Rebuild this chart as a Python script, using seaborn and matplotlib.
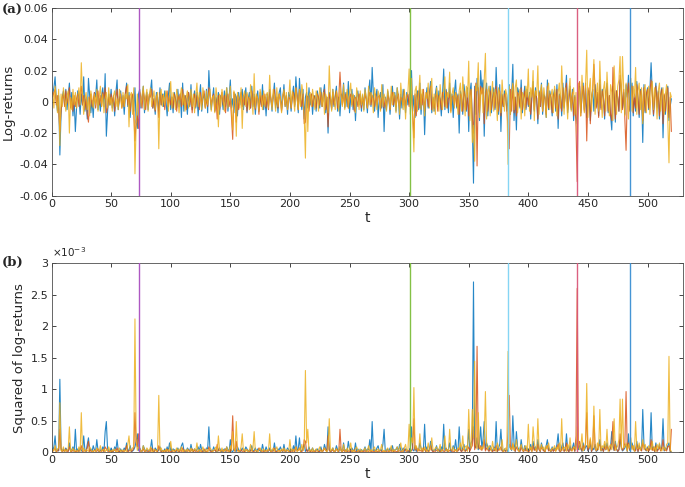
import numpy as np
import pandas as pd
import matplotlib
matplotlib.use("Agg")
import matplotlib.pyplot as plt
import seaborn as sns

# Log-returns of three series, in units of 1e-3, t = 1..520 (20 values per row)
series_names = ["S1", "S2", "S3"]
series_colors = ["#0072BD", "#D95319", "#EDB120"]

blue_rows = [
    [5, 9, 16, 2, -6, 4, -34, -8, 3, 7, -2, 8, -5, 4, 12, -3, 6, -9, 2, -19],
    [-4, 7, 3, -8, 5, -2, 16, -6, 2, -11, 15, 4, -7, 1, -10, 6, 3, 14, -5, 2],
    [-6, 4, 9, -3, 18, -22, -7, 5, -2, 8, -4, 3, -9, 6, 14, -5, 2, 7, -3, 4],
    [-8, 5, 12, -3, 6, -10, 2, 4, -6, 9, -13, -17, 5, 8, -4, 3, 10, -7, 2, 6],
    [-5, 3, 7, 14, -4, 2, -8, 6, 3, -6, 9, -2, 5, -3, 7, 1, -9, 4, 12, -5],
    [3, -7, 6, 2, -4, 8, -3, 5, -10, 12, -6, 4, 2, -8, 6, -3, 11, -5, 2, 7],
    [-4, 6, -9, 3, 11, -6, 2, 5, -3, 8, -7, 20, 4, -5, 2, 9, -6, 3, -2, 6],
    [-8, 4, 2, -5, 7, -3, 9, -6, 3, 14, -4, 2, -7, 5, 3, -9, 6, -2, 4, 8],
    [-5, 3, 9, -7, 2, 6, -4, 10, -3, 5, -8, 2, 7, -6, 4, -2, 11, -5, 3, -9],
    [5, -3, 8, 2, -6, 4, 12, -4, 3, -7, 6, 9, -5, 2, 11, -3, 4, -8, 6, 3],
    [-6, 4, 10, -3, 16, 5, -7, 15, 2, -5, 8, -11, 3, 6, -4, 9, -2, 5, -8, 3],
    [4, -6, 7, 2, -4, 9, -3, 5, 11, -7, 3, -20, 6, 2, -5, 8, -3, 4, 10, -6],
    [3, -9, 5, 2, 12, -4, 6, -3, 13, -7, 2, 8, -5, 4, -12, 3, 7, -2, 5, -6],
    [4, -5, 9, 2, -7, 6, 14, -3, 22, 5, -6, 3, 8, -10, 2, 6, -4, 11, -19, 3],
    [-5, 7, 2, -8, 4, 10, -3, 6, -6, 9, 2, -11, 5, -4, 8, 3, -7, 6, -2, 4],
    [8, 20, -6, 4, -10, 3, 7, -5, 12, -8, 4, 6, -21, 2, 9, -4, 5, 13, -7, 3],
    [-6, 5, 10, -3, 7, 2, -9, 4, 21, -5, 8, 3, -7, 12, -2, 5, -10, 6, 14, -4],
    [5, -20, 7, 3, -8, 11, 4, -6, 9, -19, 6, 12, -14, -52, 10, -8, 15, 6, -12, 20],
    [8, 14, -22, 6, 12, -9, 4, 10, -7, 3, 9, -5, 22, 2, -8, 11, -19, 5, -3, 7],
    [4, -6, 2, 11, -8, 5, 24, -12, 3, -18, 9, 6, -4, 14, -7, 3, 10, -5, 8, -3],
    [6, -11, 4, 13, -6, 9, 2, -14, 7, -3, 12, -8, 5, 3, -10, 14, -5, 7, 2, -9],
    [4, 8, -6, 11, -17, 5, 3, -9, 12, -4, 6, 17, -7, 2, 10, -5, 8, -12, 4, -9],
    [-14, 6, 10, -7, 3, 12, -5, 9, -10, 4, 7, -12, 2, 8, -6, 11, -3, 5, -9, 14],
    [-4, 8, 3, -11, 6, 12, -7, 4, -9, -18, 10, 5, -13, 7, 2, -6, 14, 9, -4, 6],
    [-8, 11, 3, 17, -5, 7, 12, -9, 4, -6, 13, 2, -10, 8, 5, -26, 11, -7, 4, 9],
    [-5, 8, 25, 6, -9, 3, 12, -4, 7, -11, 5, 9, -23, 4, -8, 6, 10, -12, -3, 2],
]

orange_rows = [
    [3, 6, 8, -2, 4, -5, -19, -6, 2, 5, -3, 7, -1, 3, 9, -4, 2, -6, 4, -3],
    [2, 5, -3, 6, 10, -2, 4, -5, 3, -8, -13, 2, 5, -3, 1, 6, -4, 3, 7, -2],
    [4, -3, 6, 2, 9, -7, -4, 3, -2, 5, -1, 4, -6, 3, 8, -3, 2, 5, -4, 3],
    [-3, 6, 10, -2, 4, -6, 3, 5, -8, -25, -12, -9, -17, 6, 3, -4, 7, 2, -5, 4],
    [-2, 5, 3, 8, -4, 2, -6, 4, 1, -10, 6, -2, 4, 3, -5, 2, 7, -3, 4, -2],
    [3, -4, 5, 2, -6, 4, 1, 5, -3, 8, -2, 4, -5, 3, 6, -2, 4, -7, 2, 5],
    [-3, 4, 2, -5, 6, -2, 3, 7, -4, 2, -3, 9, 4, -2, 3, 5, -6, 2, -11, 4],
    [-5, 3, 6, -2, 4, -7, 3, 5, -3, 2, -10, -24, 6, 3, -13, 4, -5, 2, 6, -3],
    [4, -2, 5, -6, 3, 2, -4, 7, -2, 3, -5, 4, 2, -8, 6, -3, 4, -2, 5, -4],
    [3, -5, 6, 2, -3, 4, 8, -2, 3, -4, 5, 2, -6, 3, 7, -2, 4, -5, 3, 2],
    [-4, 3, 6, -2, 9, 4, -5, 8, 2, -3, 5, -14, -13, 4, 3, -6, 2, 5, -3, 4],
    [2, -4, 5, 3, -2, 6, -3, 4, 8, -5, 3, -16, 5, 2, -4, 6, -2, 3, 7, -4],
    [3, 19, 4, -2, 6, -3, 5, 2, -4, 3, 5, -2, 4, -6, 3, 2, -3, 5, 2, -4],
    [3, -2, 5, 2, -4, 3, 6, -2, 4, 2, -3, 5, -2, 3, 4, -5, 2, 3, -4, 2],
    [-3, 4, 2, -5, 3, 6, -2, 4, -3, 2, 5, -4, 3, 2, -2, 7, -4, 3, 5, -3],
    [6, 4, -8, -23, 5, -9, 3, 7, -4, 5, -2, 8, -6, 3, 6, -3, 4, 10, -5, 2],
    [-4, 3, 5, -6, 4, 2, -5, 6, 3, -3, 7, -4, 2, 5, -6, 3, 4, -2, 6, -3],
    [4, -8, 5, 2, -6, 7, 3, -5, 6, -9, 4, 8, -10, -20, 6, 12, -41, 9, -7, 10],
    [5, 9, -14, 4, 8, -6, 3, 7, -5, 2, 6, -4, 10, 3, -6, 7, -9, 4, -3, 5],
    [3, -5, -18, -30, 8, -6, 11, -7, 3, -9, 6, 4, -3, 9, -5, 2, 7, -4, 6, -2],
    [4, -8, 3, 10, -5, 7, 2, -11, 6, -3, 9, -6, 4, 2, -8, 10, -4, 5, 3, -7],
    [3, 6, -4, 8, -11, 4, 2, -6, 9, -3, 5, 12, -5, 2, 8, -4, 6, -9, 3, -16],
    [-51, 8, 13, -9, 4, 10, -6, 12, -25, 5, 9, -14, 3, 7, 24, 8, -4, 6, -10, 11],
    [-5, 7, 3, -9, 6, 10, -6, 4, -8, -12, 22, 5, -11, 7, 3, -6, 17, 9, -5, 8],
    [-12, -31, 4, 12, -6, 8, 10, -7, 5, -4, 11, 3, -8, 7, 4, -12, 9, -6, 5, 8],
    [-4, 7, 14, 5, -8, 3, 10, -3, 6, -9, 4, 8, -14, 5, -6, 4, 9, -10, 3, -19],
]

yellow_rows = [
    [6, -4, 10, 3, -7, 8, -28, 5, -3, 9, 2, -6, 4, 7, -20, 3, -5, 8, -2, 6],
    [-4, 3, 9, -2, 25, 4, -8, 2, 6, -5, 3, -9, 7, 2, -4, 5, -2, 8, -6, 3],
    [10, -3, 5, -7, 2, 6, -4, 9, -2, 3, -6, 4, 7, -3, 2, -5, 8, 3, -4, 6],
    [-3, 5, 2, 11, -16, 4, 6, -8, 9, -46, -14, 5, -9, 7, -3, 4, 10, -5, 3, 8],
    [-6, 4, 9, -3, 2, 7, -5, 3, 6, -30, 4, 8, -3, 5, -2, 7, 3, -6, 4, 13],
    [-4, 6, 2, -5, 8, 3, -7, 4, 9, -2, 5, -6, 3, 7, -4, 2, 8, -3, 5, -7],
    [4, 12, -3, 6, 2, -5, 9, 3, -4, 7, -2, 5, 8, -6, 3, 4, -7, 9, 2, -16],
    [5, -3, 8, 2, -6, 4, 9, -4, 3, 10, -5, -18, 7, 4, -22, 6, 2, -4, 9, -17],
    [4, 7, -3, 6, 2, -5, 11, 3, -8, 18, -4, 5, 2, -6, 8, 3, -5, 7, -3, 4],
    [6, -4, 17, 2, -5, 8, 3, -6, 9, -3, 5, 2, -7, 4, 8, -3, 6, -5, 2, 14],
    [-4, 7, 3, -6, 9, 2, -5, 8, -3, 11, 5, -9, -36, 12, -19, 4, 6, -3, 8, 2],
    [-5, 7, 3, -6, 9, 4, -3, 6, -8, 5, 2, -7, 23, 4, -6, 8, 2, -5, 7, 3],
    [-6, 9, 4, -3, 11, -5, 2, 8, -4, 6, 12, -3, 5, 2, -7, 9, 3, -5, 7, -2],
    [5, -6, 8, 3, -4, 10, -2, 6, 4, -7, 9, 2, -5, 7, 3, -6, 11, -3, 5, 2],
    [-6, 8, 3, -5, 10, -2, 6, 4, -7, 9, 3, -8, 12, 2, -5, 8, -11, 4, 6, 21],
    [-8, 15, -12, -32, 7, 10, -6, 4, 17, -5, 8, 3, -9, 6, 2, 12, -4, 7, 15, -6],
    [5, -8, 9, 3, -6, 11, 2, -5, 8, 16, -4, 6, 3, 19, -7, 5, 9, -4, 6, 3],
    [-8, 7, 12, -6, 16, 4, -9, 10, 3, 26, -12, 8, -26, -15, -38, 11, 7, 25, -10, 6],
    [9, -7, 14, 31, -11, 6, 10, -9, 4, 13, -6, 8, 3, -12, 9, 5, -7, 14, 2, -6],
    [8, 4, -40, 10, -8, 6, 12, -5, 9, 14, -7, 3, 8, -11, 6, 4, -9, 10, 3, 21],
    [-6, 9, 3, 20, -12, 7, 4, 23, -8, 5, 11, -6, 9, 3, -10, 7, 12, -5, 4, 8],
    [-7, 10, 3, -9, 6, 12, -4, 23, 5, -8, 9, 3, -11, 7, 15, -6, 4, 9, -8, 6],
    [-20, 12, 6, -9, 17, 4, -7, 11, 33, -10, 8, 15, -6, 9, 27, -8, 5, 12, -6, 26],
    [4, -10, 8, 13, -6, 19, 3, -9, 11, 6, -12, 23, 5, -8, 10, 14, 29, -7, 29, 8],
    [-9, 12, 4, -11, 8, 15, -6, 10, 3, 22, -8, 7, 12, -5, 9, -14, 6, 11, -7, 4],
    [10, -8, 6, 13, -5, 9, 3, -11, 7, 12, -6, 4, 9, -8, 5, 11, -12, -39, 6, 3],
]

# Change points (t) marked by vertical lines
vline_t = [73, 301, 383, 441, 485]
vline_colors = ["#A94FBF", "#7DBE3C", "#7ED3F4", "#D9577A", "#3B8FD3"]

xticks = list(range(0, 501, 50))
top_yticks = [-0.06, -0.04, -0.02, 0, 0.02, 0.04, 0.06]
top_ylabels = ["-0.06", "-0.04", "-0.02", "0", "0.02", "0.04", "0.06"]
bot_yticks = [0, 0.5e-3, 1e-3, 1.5e-3, 2e-3, 2.5e-3, 3e-3]
bot_ylabels = ["0", "0.5", "1", "1.5", "2", "2.5", "3"]

for name, rows in [("blue", blue_rows), ("orange", orange_rows), ("yellow", yellow_rows)]:
    bad = [(i, len(r)) for i, r in enumerate(rows) if len(r) != 20]
    assert not bad and len(rows) == 26, f"{name}: rows {len(rows)} bad {bad}"

frames = []
for nm, rows in zip(series_names, [blue_rows, orange_rows, yellow_rows]):
    vals = np.array([v for r in rows for v in r], dtype=float) * 1e-3
    frames.append(pd.DataFrame({"t": np.arange(1, len(vals) + 1), "r": vals,
                                "r2": vals ** 2, "series": nm}))
df = pd.concat(frames, ignore_index=True)

sns.set_style("ticks")
plt.rcParams["font.family"] = ["DejaVu Sans"]

fig = plt.figure(figsize=(6.85, 4.87), dpi=100)
ax1 = fig.add_axes([0.0752, 0.5982, 0.9223, 0.3854])
ax2 = fig.add_axes([0.0752, 0.0719, 0.9223, 0.3874])

axis_col = "#4d4d4d"
for ax, col, yt, yl, ylim, ylab in [
    (ax1, "r", top_yticks, top_ylabels, (-0.06, 0.06), "Log-returns"),
    (ax2, "r2", bot_yticks, bot_ylabels, (0, 3e-3), "Squared of log-returns"),
]:
    for nm, c in zip(series_names, series_colors):
        sub = df[df["series"] == nm]
        sns.lineplot(data=sub, x="t", y=col, ax=ax, color=c, linewidth=0.8,
                     alpha=0.85, legend=False, estimator=None)
    for vt, vc in zip(vline_t, vline_colors):
        ax.axvline(vt, color=vc, linewidth=1.0, alpha=0.95, zorder=5)
    ax.set_xlim(0, 530)
    ax.set_ylim(*ylim)
    ax.set_xticks(xticks)
    ax.set_xticklabels([str(v) for v in xticks])
    ax.set_yticks(yt)
    ax.set_yticklabels(yl)
    ax.tick_params(direction="in", length=3, width=0.6, colors="#262626",
                   labelsize=8, top=True, right=True, pad=2.5)
    for s in ax.spines.values():
        s.set_color(axis_col)
        s.set_linewidth(0.6)
        s.set_visible(True)
    ax.set_xlabel("t", fontsize=10, labelpad=1)
    ax.set_ylabel(ylab, fontsize=9.5, labelpad=3)

fig.text(0.0752, 0.468, "×10$^{-3}$", fontsize=7.5, ha="left", va="bottom", color="#262626")
fig.text(0.002, 0.979, "(a)", fontsize=9.5, fontweight="bold", family="DejaVu Serif",
         ha="left", va="center")
fig.text(0.002, 0.461, "(b)", fontsize=9.5, fontweight="bold", family="DejaVu Serif",
         ha="left", va="center")

fig.savefig("out.png", dpi=100)
